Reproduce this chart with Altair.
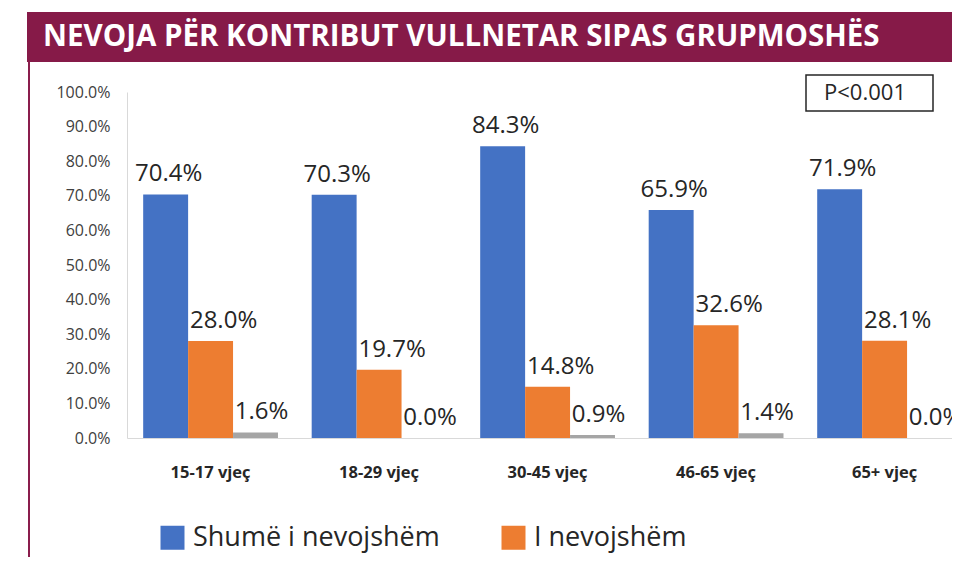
import altair as alt
import pandas as pd

groups = ["15-17 vjeç", "18-29 vjeç", "30-45 vjeç", "46-65 vjeç", "65+ vjeç"]
series = ["Shumë i nevojshëm", "I nevojshëm", "Aspak i nevojshëm"]
v_shume = [70.4, 70.3, 84.3, 65.9, 71.9]
v_nevoj = [28.0, 19.7, 14.8, 32.6, 28.1]
v_aspak = [1.6, 0.0, 0.9, 1.4, 0.0]
colors = ["#4472C4", "#ED7D31", "#A5A5A5"]
label_dx = [3, 13, 6]
title_text = "NEVOJA PËR KONTRIBUT VULLNETAR SIPAS GRUPMOSHËS"
pvalue_text = "P<0.001"

rows = []
for s, vals in zip(series, [v_shume, v_nevoj, v_aspak]):
    for g, v in zip(groups, vals):
        rows.append({"group": g, "series": s, "value": v})
df = pd.DataFrame(rows)

FONT = "Open Sans"
W, H = 825, 346

x_enc = alt.X(
    "group:N", sort=groups,
    scale=alt.Scale(paddingInner=0.2, paddingOuter=0.048, align=1),
    axis=alt.Axis(title=None, labelAngle=0, ticks=False, domainColor="#d9d9d9",
                  labelFont=FONT, labelFontSize=16.5, labelFontWeight="bold",
                  labelColor="#262626", labelPadding=26),
)
xo_enc = alt.XOffset("series:N", sort=series,
                     scale=alt.Scale(paddingInner=0, paddingOuter=0))
y_enc = alt.Y(
    "value:Q", scale=alt.Scale(domain=[0, 100], nice=False),
    axis=alt.Axis(title=None, values=list(range(0, 101, 10)),
                  labelExpr="format(datum.value, '.1f') + '%'",
                  grid=False, ticks=False, domainColor="#d9d9d9",
                  labelFont=FONT, labelFontSize=16, labelColor="#404040",
                  labelPadding=17),
)

base = alt.Chart(df)

bars = base.mark_bar().encode(
    x=x_enc, xOffset=xo_enc, y=y_enc,
    color=alt.Color(
        "series:N", sort=series,
        scale=alt.Scale(domain=series, range=colors),
        legend=alt.Legend(values=series[:2], orient="none", legendX=32, legendY=432,
                          direction="horizontal", title=None, symbolType="square",
                          symbolSize=576, symbolStrokeWidth=0, symbolOpacity=1,
                          labelFont=FONT, labelFontSize=27, labelColor="#262626",
                          columnPadding=60, labelOffset=7, labelLimit=400),
    ),
)

text_layers = []
for s, dx in zip(series, label_dx):
    t = base.transform_filter(alt.datum.series == s).transform_calculate(
        label="format(datum.value, '.1f') + '%'"
    ).mark_text(dx=dx, dy=-13, baseline="alphabetic", font=FONT, fontSize=24,
                color="#262626").encode(
        x=x_enc, xOffset=xo_enc, y=y_enc, text="label:N"
    )
    text_layers.append(t)

one = alt.Data(values=[{"t": title_text, "p": pvalue_text}])

banner = alt.Chart(one).mark_rect(color="#861A48").encode(
    x=alt.value(-100), x2=alt.value(860), y=alt.value(-80), y2=alt.value(-30)
)
left_line = alt.Chart(one).mark_rule(color="#8A1D4C", strokeWidth=2).encode(
    x=alt.value(-98), y=alt.value(-31), y2=alt.value(500)
)
banner_text = alt.Chart(one).mark_text(
    align="left", baseline="middle", font=FONT, fontSize=29.5, fontWeight="bold",
    color="white"
).encode(x=alt.value(-84), y=alt.value(-55), text="t:N")

pbox = alt.Chart(one).mark_rect(fill="white", stroke="#262626", strokeWidth=1.5).encode(
    x=alt.value(679), x2=alt.value(806), y=alt.value(-17), y2=alt.value(19)
)
ptext = alt.Chart(one).mark_text(
    align="center", baseline="middle", font=FONT, fontSize=22, color="#262626"
).encode(x=alt.value(738), y=alt.value(1), text="p:N")

chart = alt.layer(
    banner, left_line, banner_text, pbox, ptext, bars, *text_layers
).properties(
    width=W, height=H,
    padding={"left": 119, "top": 84, "right": 0, "bottom": 119},
    autosize=alt.AutoSizeParams(type="none"),
    background="white",
).configure_view(stroke=None)

chart.save("out.html", embed_options={"renderer": "svg", "actions": False})
